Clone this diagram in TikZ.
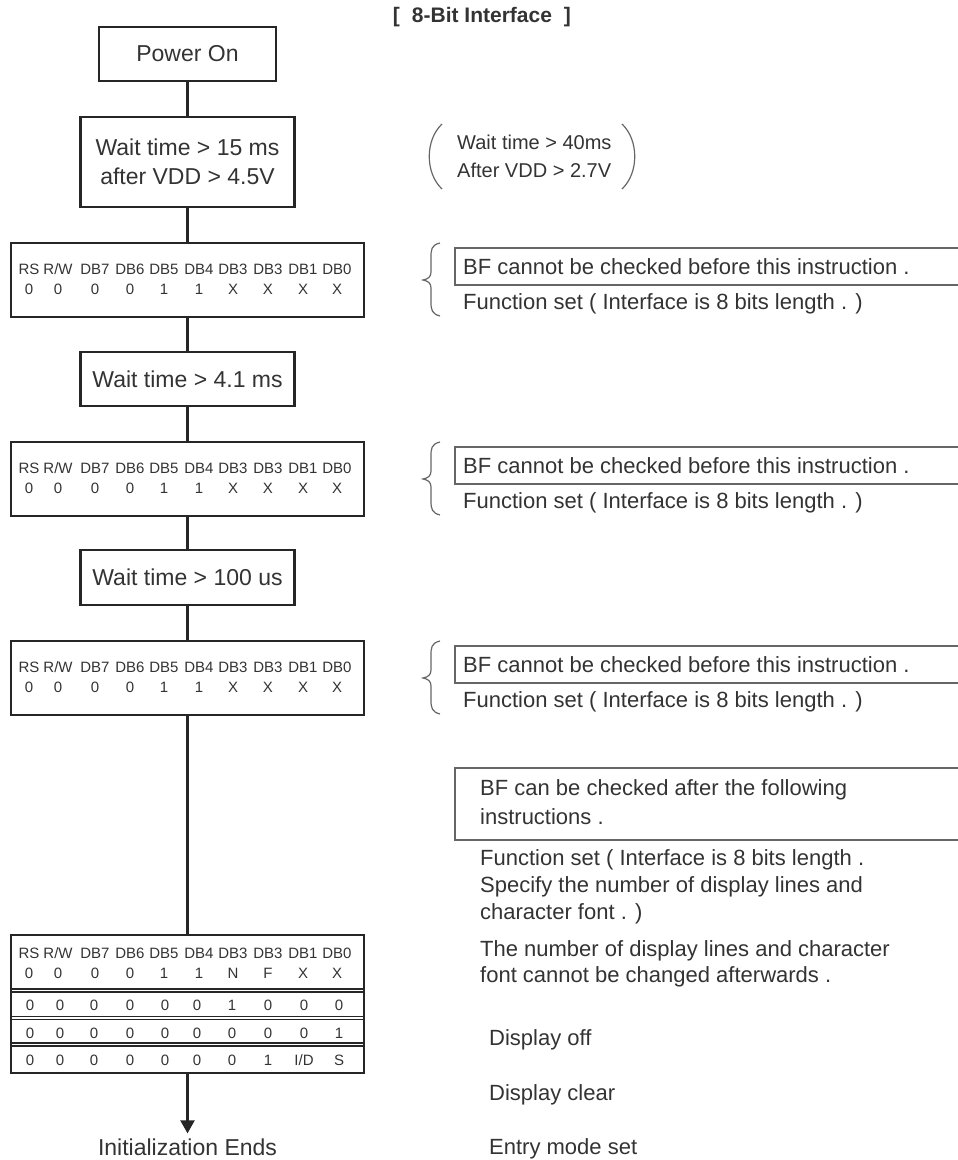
\documentclass[tikz,border=0pt]{standalone}
\usepackage{fontspec}
\setmainfont{Liberation Sans}
\usetikzlibrary{arrows.meta}

\begin{document}
\begin{tikzpicture}[x=1pt, y=-1pt,
	flow/.style={line width=2.4pt, draw=black!85},
	flowbox/.style={flow, rectangle, inner sep=0pt, align=center, text=black!80,
		font=\fontsize{23}{29}\selectfont},
	bit/.style={inner sep=0pt, text=black!80, font=\fontsize{15}{15}\selectfont},
	note/.style={anchor=west, inner sep=0pt, text=black!80, text height=17pt, text depth=2pt,
		font=\fontsize{22}{26}\selectfont},
	noteline/.style={line width=1.2pt, draw=black!60},
	notebox/.style={line width=1.6pt, draw=black!60}]
	\useasboundingbox (0,0) rectangle (958,1160);
	\clip (0,0) rectangle (958,1160);

	% Title
	\node[text=black!80, font=\bfseries\fontsize{21}{21}\selectfont] (title) at (482,17)
		{[\hspace{12pt}8-Bit Interface\hspace{12pt}]};

	% Power on and first wait
	\node[flowbox, minimum width=177pt, minimum height=54pt] (pwr) at (187.5,54) {Power On};
	\node[flowbox, minimum width=214pt, minimum height=90pt] (w15) at (187.5,162)
		{Wait time > 15 ms\\after VDD > 4.5V};

	% Function set boxes
	\foreach \n/\y in {reg1/280, reg2/479, reg3/678} {
		\node[flowbox, minimum width=353pt, minimum height=74pt] (\n) at (187.5,\y) {};
		\foreach \x/\v/\h [count=\i] in {29/0/RS, 58/0/{R/W}, 95/0/DB7, 130/0/DB6, 164/1/DB5,
				199/1/DB4, 233/X/DB3, 268/X/DB3, 303/X/DB1, 337/X/DB0} {
			\node[bit] (\n-h\i) at (\x,\y-11) {\h};
			\node[bit] (\n-v\i) at (\x,\y+9) {\v};
		}
	}

	% Waits between
	\node[flowbox, minimum width=214pt, minimum height=54pt] (w41) at (187.5,379) {Wait time > 4.1 ms};
	\node[flowbox, minimum width=214pt, minimum height=55pt] (w100) at (187.5,577.5) {Wait time > 100 us};

	% Last table
	\node[flowbox, minimum width=353pt, minimum height=138pt] (tbl) at (187.5,1004) {};
	\foreach \x/\v/\h [count=\i] in {29/0/RS, 58/0/{R/W}, 95/0/DB7, 130/0/DB6, 164/1/DB5,
			199/1/DB4, 233/N/DB3, 268/F/DB3, 303/X/DB1, 337/X/DB0} {
		\node[bit] (tbl-h\i) at (\x,953) {\h};
		\node[bit] (tbl-v\i) at (\x,973) {\v};
	}
	\foreach \s in {990.5, 1018, 1044.5} {
		\draw[flow, line width=1.4pt] (11,\s-1.6) -- (364,\s-1.6);
		\draw[flow, line width=1.4pt] (11,\s+1.6) -- (364,\s+1.6);
	}
	\foreach \y/\g/\h/\k/\l [count=\r] in {1005/1/0/0/0, 1033/0/0/0/1, 1060/0/1/{I/D}/S} {
		\foreach \x [count=\i] in {30,60,94,130,165,197}
			\node[bit] (row\r-\i) at (\x,\y) {0};
		\node[bit] (row\r-7) at (232,\y) {\g};
		\node[bit] (row\r-8) at (268,\y) {\h};
		\node[bit] (row\r-9) at (304,\y) {\k};
		\node[bit] (row\r-10) at (339,\y) {\l};
	}

	% Ends
	\node[inner sep=5pt, text=black!80, font=\fontsize{23}{29}\selectfont] (ends) at (187.5,1147)
		{Initialization Ends};

	% Connectors
	\foreach \a/\b in {pwr/w15, w15/reg1, reg1/w41, w41/reg2, reg2/w100, w100/reg3, reg3/tbl}
		\draw[flow] (\a) -- (\b);
	\draw[flow] [-{Triangle[length=13pt,width=14pt]}] (tbl) -- (ends);

	% Wait 40 ms note
	\draw[noteline] (442,124) .. controls (425,140) and (425,173) .. (442,189);
	\draw[noteline] (622,124) .. controls (639,140) and (639,173) .. (622,189);
	\node[note, font=\fontsize{20}{24}\selectfont] (w40a) at (457,142) {Wait time > 40ms};
	\node[note, font=\fontsize{20}{24}\selectfont] (w40b) at (457,170) {After VDD > 2.7V};

	% BF cannot be checked notes
	\foreach \d [count=\k] in {0,199,398} {
		\draw[noteline] (440,243+\d) .. controls (431,245+\d) and (431,250+\d) .. (431,258+\d)
			-- (431,272+\d) .. controls (431,277+\d) and (428,279+\d) .. (423,280+\d)
			.. controls (428,281+\d) and (431,283+\d) .. (431,288+\d)
			-- (431,302+\d) .. controls (431,310+\d) and (432,314+\d) .. (440,316+\d);
		\draw[notebox] (455,248+\d) rectangle (975,285+\d);
		\node[note] (bf\k) at (463,266.5+\d) {BF cannot be checked before this instruction .};
		\node[note] (fs\k) at (463,302+\d) {Function set ( Interface is 8 bits length . )};
	}

	% BF can be checked note
	\draw[notebox] (455,768) rectangle (975,840);
	\node[note] (bfc1) at (480,788) {BF can be checked after the following};
	\node[note] (bfc2) at (480,817) {instructions .};
	\node[note] (fsl1) at (480,858) {Function set ( Interface is 8 bits length .};
	\node[note] (fsl2) at (480,885) {Specify the number of display lines and};
	\node[note] (fsl3) at (480,912) {character font . )};
	\node[note] (nol1) at (480,949) {The number of display lines and character};
	\node[note] (nol2) at (480,975) {font cannot be changed afterwards .};

	% Last instructions
	\node[note] (doff) at (489,1038) {Display off};
	\node[note] (dclr) at (489,1093) {Display clear};
	\node[note] (emode) at (489,1147) {Entry mode set};

\end{tikzpicture}
\end{document}
